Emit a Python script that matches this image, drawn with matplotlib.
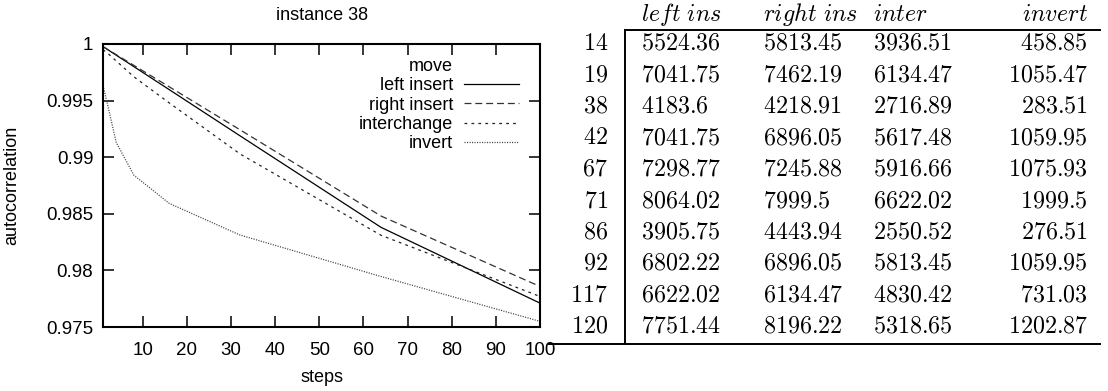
import matplotlib
matplotlib.use("Agg")
import matplotlib.pyplot as plt
from matplotlib.lines import Line2D
from matplotlib.ticker import FuncFormatter

# ---- autocorrelation curves (instance 38) ----
steps = [1, 2, 4, 8, 16, 32, 64, 100]
left_insert = [0.99977, 0.99952, 0.99901, 0.99800, 0.99597, 0.99190, 0.98380, 0.97711]
right_insert = [0.99977, 0.99953, 0.99906, 0.99811, 0.99622, 0.99243, 0.98480, 0.97858]
interchange = [0.99950, 0.99920, 0.99850, 0.99710, 0.99480, 0.99030, 0.98310, 0.97770]
invert = [0.99633, 0.99470, 0.99130, 0.98841, 0.98592, 0.98313, 0.97946, 0.97550]

x_ticks = [10, 20, 30, 40, 50, 60, 70, 80, 90, 100]
y_ticks = [0.975, 0.98, 0.985, 0.99, 0.995, 1.0]

# ---- correlation length table ----
instances = ["14", "19", "38", "42", "67", "71", "86", "92", "117", "120"]
col_headers = ["left ins", "right ins", "inter", "invert"]
col_left_ins = ["5524.36", "7041.75", "4183.6", "7041.75", "7298.77",
                "8064.02", "3905.75", "6802.22", "6622.02", "7751.44"]
col_right_ins = ["5813.45", "7462.19", "4218.91", "6896.05", "7245.88",
                 "7999.5", "4443.94", "6896.05", "6134.47", "8196.22"]
col_inter = ["3936.51", "6134.47", "2716.89", "5617.48", "5916.66",
             "6622.02", "2550.52", "5813.45", "4830.42", "5318.65"]
col_invert = ["458.85", "1055.47", "283.51", "1059.95", "1075.93",
              "1999.5", "276.51", "1059.95", "731.03", "1202.87"]

W, H = 1108, 391
plt.rcParams["font.family"] = ["Liberation Sans", "DejaVu Sans"]
plt.rcParams["mathtext.fontset"] = "cm"
plt.rcParams["lines.scale_dashes"] = False

fig = plt.figure(figsize=(W / 100, H / 100), dpi=100)


def fx(px):
    return px / W


def fy(py):
    return 1 - py / H


ax = fig.add_axes([fx(103), fy(327), fx(540 - 103), (327 - 44) / H])

l1, = ax.plot(steps, left_insert, color="black", lw=0.9, ls="-")
l2, = ax.plot(steps, right_insert, color="#333333", lw=0.9, ls=(0, (5, 2.8)))
l3, = ax.plot(steps, interchange, color="#222222", lw=0.9, ls=(0, (2.0, 3.0)))
l4, = ax.plot(steps, invert, color="#444444", lw=0.9, ls=(0, (0.8, 1.0)))

ax.set_xlim(1, 100)
ax.set_ylim(0.975, 1.0)
ax.set_xticks(x_ticks)
ax.set_yticks(y_ticks)
ax.yaxis.set_major_formatter(FuncFormatter(lambda v, p: "%g" % round(v, 4)))
ax.tick_params(direction="in", length=8, width=1.1, top=True, right=True,
               labelsize=13.5, colors="black")
ax.tick_params(axis="x", pad=11)
ax.tick_params(axis="y", pad=7)
for s in ax.spines.values():
    s.set_linewidth(1.5)

blank = Line2D([], [], color="none")
ax.legend([blank, l1, l2, l3, l4],
          ["move", "left insert", "right insert", "interchange", "invert"],
          loc="upper right", bbox_to_anchor=(fx(519), fy(58)),
          bbox_transform=fig.transFigure, frameon=False, markerfirst=False,
          handlelength=3.05, handletextpad=0.6, labelspacing=0.13,
          borderpad=0, borderaxespad=0, fontsize=13)

fig.text(fx(322), fy(16), "instance 38", ha="center", va="center", fontsize=13)
fig.text(fx(322), fy(377), "steps", ha="center", va="center", fontsize=13)
fig.text(fx(12), fy(185), "autocorrelation", ha="center", va="center",
         rotation=90, fontsize=13)

# ---- table ----
tsize = 17.3
row_y0, row_dy = 44, 31.4
header_y = 15
col_specs = [(col_left_ins, 641, "left"), (col_right_ins, 763, "left"),
             (col_inter, 873, "left"), (col_invert, 1088, "right")]

for (values, xpos, align), head in zip(col_specs, col_headers):
    fig.text(fx(xpos), fy(header_y), r"$%s$" % head.replace(" ", r"\ "),
             ha=align, va="center", fontsize=tsize)
    for i, v in enumerate(values):
        fig.text(fx(xpos), fy(row_y0 + i * row_dy), r"$%s$" % v,
                 ha=align, va="center", fontsize=tsize)

for i, name in enumerate(instances):
    fig.text(fx(608), fy(row_y0 + i * row_dy), r"$%s$" % name,
             ha="right", va="center", fontsize=tsize)

rule = dict(color="black", lw=1.4, transform=fig.transFigure)
fig.add_artist(Line2D([fx(625), fx(1100)], [fy(30), fy(30)], **rule))
fig.add_artist(Line2D([fx(625), fx(625)], [fy(30), fy(344)], **rule))
fig.add_artist(Line2D([fx(549), fx(1100)], [fy(344), fy(344)], **rule))

fig.savefig("out.png", dpi=100)
